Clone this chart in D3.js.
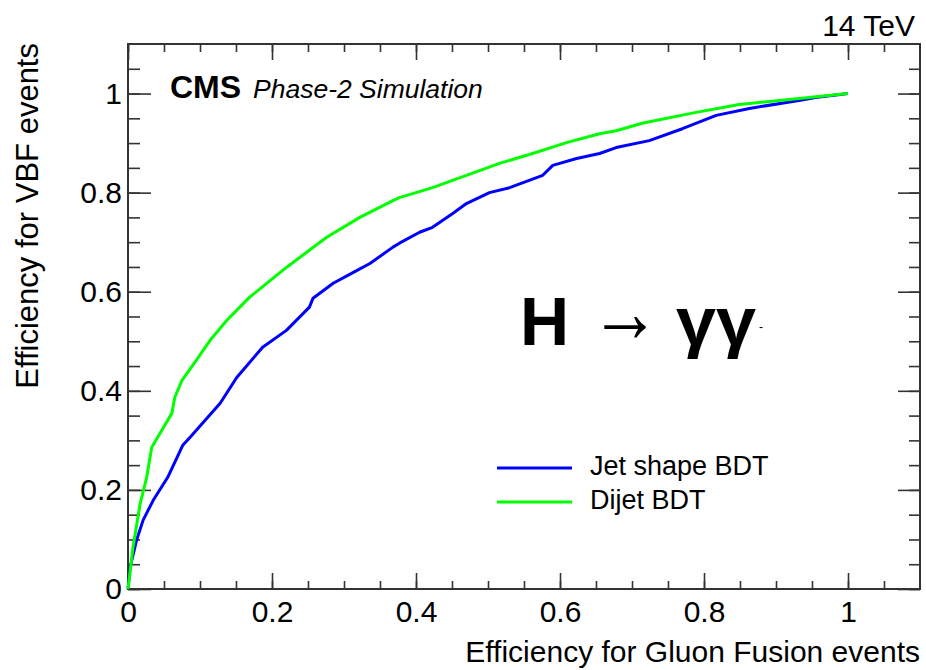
<!DOCTYPE html>
<html>
<head>
<meta charset="utf-8">
<script src="https://cdn.jsdelivr.net/npm/d3@7"></script>
<style>
  body { margin: 0; background: #fff; }
  text { font-family: "Liberation Sans", Arial, Helvetica, sans-serif; fill: #000; }
</style>
</head>
<body>
<div id="my_dataviz"></div>
<script>
// ROC curves
const jetShapeX = [0, 0.003, 0.012, 0.021, 0.035, 0.055, 0.076, 0.086, 0.128, 0.151, 0.187, 0.22, 0.252, 0.257, 0.285, 0.313, 0.336, 0.368, 0.377, 0.405, 0.423, 0.451, 0.47, 0.502, 0.53, 0.576, 0.59, 0.623, 0.655, 0.678, 0.724, 0.77, 0.817, 0.863, 0.932, 0.955, 1]
const jetShapeY = [0, 0.044, 0.099, 0.139, 0.179, 0.225, 0.29, 0.306, 0.375, 0.427, 0.488, 0.522, 0.569, 0.587, 0.617, 0.639, 0.657, 0.69, 0.698, 0.72, 0.73, 0.758, 0.778, 0.8, 0.81, 0.835, 0.855, 0.869, 0.879, 0.891, 0.905, 0.929, 0.956, 0.97, 0.986, 0.992, 1]

const dijetX = [0, 0.007, 0.017, 0.026, 0.033, 0.061, 0.065, 0.075, 0.095, 0.114, 0.137, 0.169, 0.22, 0.276, 0.322, 0.368, 0.377, 0.423, 0.47, 0.516, 0.562, 0.609, 0.655, 0.678, 0.714, 0.789, 0.849, 0.932, 1]
const dijetY = [0, 0.085, 0.173, 0.226, 0.286, 0.355, 0.387, 0.421, 0.462, 0.502, 0.542, 0.589, 0.649, 0.71, 0.75, 0.784, 0.79, 0.81, 0.835, 0.859, 0.879, 0.901, 0.919, 0.925, 0.94, 0.962, 0.978, 0.99, 1]

const majorTicks = [0, 0.2, 0.4, 0.6, 0.8, 1]
const minorTicks = d3.range(0, 22).map(i => i * 0.05)

const seriesNames = ["Jet shape BDT", "Dijet BDT"]
const seriesColors = ["#0000ff", "#00ff00"]

// frame
const margin = {top: 44, right: 6, bottom: 81, left: 128},
  width = 926 - margin.left - margin.right,
  height = 670 - margin.top - margin.bottom;

const svgRoot = d3.select("#my_dataviz")
.append("svg")
  .attr("width", 926)
  .attr("height", 670)

const svg = svgRoot.append("g")
  .attr("transform", "translate(" + margin.left + "," + margin.top + ")");

const x = d3.scaleLinear().domain([0, 1.1]).range([0, width])
const y = d3.scaleLinear().domain([0, 1.1]).range([height, 0])

const fmt = d => d === 0 ? "0" : (d === 1 ? "1" : d3.format(".1f")(d))

function styleAxis(g) {
  g.select(".domain").remove()
  g.selectAll("line").attr("stroke", "#333").attr("stroke-width", 1.6)
  g.selectAll("text").style("font-size", "30px").attr("fill", "#000")
}

// bottom
svg.append("g").attr("transform", "translate(0," + height + ")")
  .call(d3.axisBottom(x).tickValues(minorTicks).tickSize(-8).tickFormat(""))
  .call(styleAxis)
svg.append("g").attr("transform", "translate(0," + height + ")")
  .call(d3.axisBottom(x).tickValues(majorTicks).tickSize(-16).tickPadding(12).tickFormat(fmt))
  .call(styleAxis)
// top
svg.append("g")
  .call(d3.axisTop(x).tickValues(minorTicks).tickSize(-8).tickFormat(""))
  .call(styleAxis)
svg.append("g")
  .call(d3.axisTop(x).tickValues(majorTicks).tickSize(-16).tickFormat(""))
  .call(styleAxis)
// left
svg.append("g")
  .call(d3.axisLeft(y).tickValues(minorTicks).tickSize(-12).tickFormat(""))
  .call(styleAxis)
svg.append("g")
  .call(d3.axisLeft(y).tickValues(majorTicks).tickSize(-23).tickPadding(6).tickFormat(fmt))
  .call(styleAxis)
// right
svg.append("g").attr("transform", "translate(" + width + ",0)")
  .call(d3.axisRight(y).tickValues(minorTicks).tickSize(-11).tickFormat(""))
  .call(styleAxis)
svg.append("g").attr("transform", "translate(" + width + ",0)")
  .call(d3.axisRight(y).tickValues(majorTicks).tickSize(-22).tickFormat(""))
  .call(styleAxis)

svg.append("rect")
  .attr("width", width).attr("height", height)
  .attr("fill", "none").attr("stroke", "#333").attr("stroke-width", 2)

// curves
const line = d3.line()
  .x(d => x(d[0]))
  .y(d => y(d[1]))

const series = [
  d3.zip(jetShapeX, jetShapeY),
  d3.zip(dijetX, dijetY)
]

svg.selectAll(".roc")
  .data(series)
  .enter()
  .append("path")
    .attr("class", "roc")
    .attr("d", line)
    .attr("fill", "none")
    .attr("stroke", (d, i) => seriesColors[i])
    .attr("stroke-width", 3)
    .attr("stroke-linejoin", "round")

// legend
const legend = svg.selectAll(".leg")
  .data(seriesNames)
  .enter()
  .append("g")
    .attr("class", "leg")
    .attr("transform", (d, i) => "translate(369," + (424 + i * 34) + ")")
legend.append("line")
  .attr("x1", 0).attr("x2", 75)
  .attr("stroke", (d, i) => seriesColors[i])
  .attr("stroke-width", 3)
legend.append("text")
  .attr("x", 93).attr("y", 7)
  .style("font-size", "27px")
  .text(d => d)

// labels
svgRoot.append("text")
  .attr("x", 920).attr("y", 662)
  .attr("text-anchor", "end")
  .style("font-size", "30px")
  .text("Efficiency for Gluon Fusion events")

svgRoot.append("text")
  .attr("transform", "translate(38,43) rotate(-90)")
  .attr("text-anchor", "end")
  .style("font-size", "31px")
  .text("Efficiency for VBF events")

svgRoot.append("text")
  .attr("x", 915).attr("y", 36)
  .attr("text-anchor", "end")
  .style("font-size", "30px")
  .text("14 TeV")

svgRoot.append("text")
  .attr("x", 170).attr("y", 98)
  .style("font-size", "32px")
  .style("font-weight", "bold")
  .text("CMS")

svgRoot.append("text")
  .attr("x", 253).attr("y", 98)
  .style("font-size", "26.5px")
  .style("font-style", "italic")
  .text("Phase-2 Simulation")

// H -> gamma gamma
svgRoot.append("text")
  .attr("x", 520).attr("y", 345)
  .style("font-size", "68px")
  .style("font-weight", "bold")
  .text("H")
svgRoot.append("text")
  .attr("x", 590).attr("y", 342)
  .attr("textLength", 70)
  .attr("lengthAdjust", "spacingAndGlyphs")
  .style("font-size", "88px")
  .text("→")
svgRoot.append("text")
  .attr("x", 676).attr("y", 345)
  .attr("textLength", 80)
  .attr("lengthAdjust", "spacingAndGlyphs")
  .style("font-size", "68px")
  .style("font-weight", "bold")
  .text("γγ")
svgRoot.append("text")
  .attr("x", 759).attr("y", 331)
  .style("font-size", "12px")
  .text("-")
</script>
</body>
</html>
